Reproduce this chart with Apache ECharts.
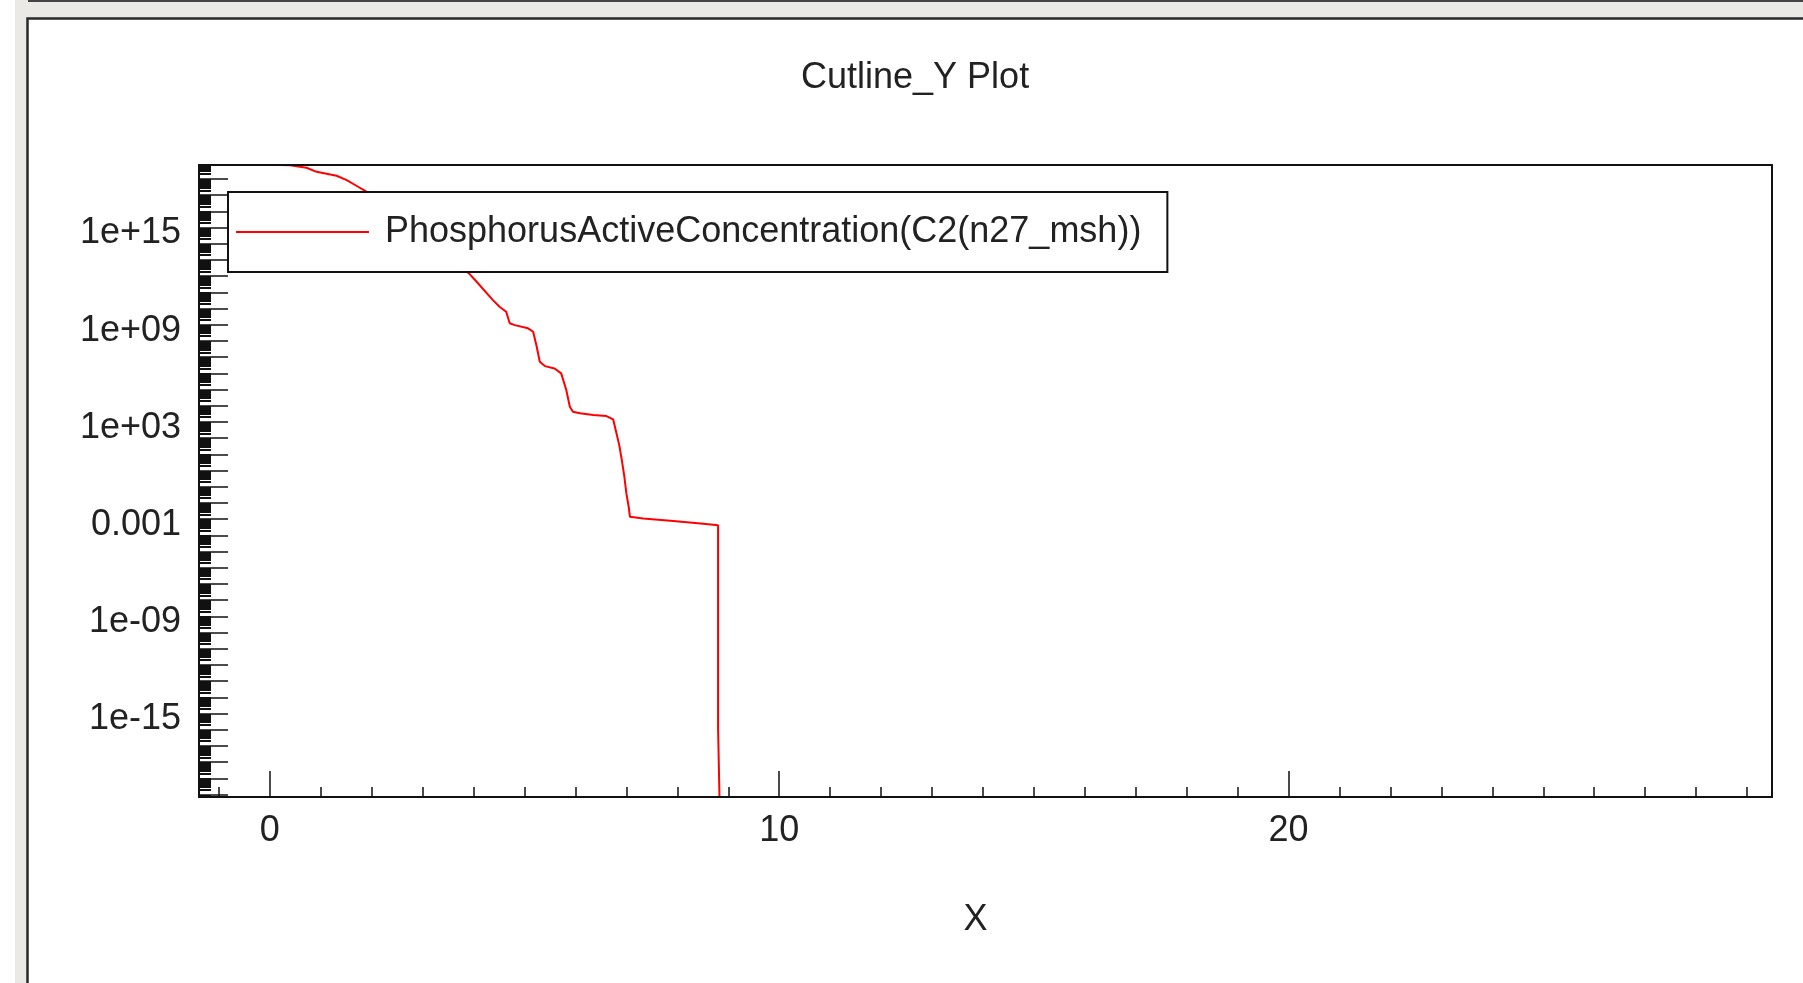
<!DOCTYPE html>
<html>
<head>
<meta charset="utf-8">
<script src="https://cdn.jsdelivr.net/npm/echarts@6/dist/echarts.min.js"></script>
<style>
  html, body { margin: 0; padding: 0; background: #ebe9e5; }
  #chart { width: 1803px; height: 983px; }
</style>
</head>
<body>
<div id="chart"></div>
<script>
// ---- data ----
const chartTitle = 'Cutline_Y Plot';
const seriesName = 'PhosphorusActiveConcentration(C2(n27_msh))';
const xAxisName = 'X';

// position along the cutline
const xs = [0.0, 0.4, 0.72, 0.92, 1.31, 1.51, 1.70, 1.88, 2.6, 3.3,
            3.91, 4.06, 4.38, 4.51, 4.64, 4.71, 4.81, 5.07, 5.17, 5.24,
            5.30, 5.40, 5.59, 5.72, 5.82, 5.89, 5.95, 6.09, 6.35, 6.61,
            6.74, 6.79, 6.86, 6.91, 6.96, 7.00, 7.05, 7.07, 7.33, 7.92,
            8.51, 8.80, 8.80, 8.84];
// active phosphorus concentration
const conc = [7.4e18, 7.1e18, 4.9e18, 2.75e18, 1.58e18, 8.5e17, 3.8e17, 1.78e17, 4.0e15, 6.3e13,
              1.48e12, 4.5e11, 3.3e10, 1.29e10, 6.3e9, 1.23e9, 9.5e8, 6.0e8, 3.7e8, 4.4e7,
              5.2e6, 2.8e6, 2.0e6, 1.0e6, 9.3e4, 8.7e3, 4.3e3, 3.4e3, 2.7e3, 2.3e3,
              1.45e3, 3.2e2, 37, 4.5, 0.42, 0.039, 4.7e-3, 1.4e-3, 1.1e-3, 7.6e-4,
              5.2e-4, 4.2e-4, 1.3e-16, 1e-22];

// axis ticks / labels
const xMinorTicks = [-1,0,1,2,3,4,5,6,7,8,9,10,11,12,13,14,15,16,17,18,19,20,21,22,23,24,25,26,27,28,29];
const xMajorTicks = [0, 10, 20];
const xTickLabels = ['0', '10', '20'];
const yDecadeExps = [-20,-19,-18,-17,-16,-15,-14,-13,-12,-11,-10,-9,-8,-7,-6,-5,-4,-3,-2,-1,0,1,2,3,4,5,6,7,8,9,10,11,12,13,14,15,16,17,18];
const yLabelExps = [15, 9, 3, -3, -9, -15];
const yTickLabels = ['1e+15', '1e+09', '1e+03', '0.001', '1e-09', '1e-15'];

// axis ranges (x in data units, y as log10 of concentration)
const X_MIN = -1.39, X_MAX = 29.49;
const Y_MIN = -20.15, Y_MAX = 18.86;

// ---- build ----
const yMinorTicks = [];
for (let n = -21; n <= 19; n++) {
  for (let k = 2; k <= 9; k++) {
    const v = n + Math.log10(k);
    if (v > Y_MIN && v < Y_MAX) yMinorTicks.push(v);
  }
}
const seriesData = xs.map((x, i) => [x, Math.log10(conc[i])]);

const FONT = '"Liberation Sans", Arial, sans-serif';
const TXT = '#222';
const FS = 36;

const chart = echarts.init(document.getElementById('chart'));
chart.setOption({
  animation: false,
  backgroundColor: '#ebe9e5',
  textStyle: { fontFamily: FONT },
  graphic: [
    { type: 'rect', z: -10, shape: { x: 0, y: 0, width: 15, height: 983 }, style: { fill: '#ffffff' } },
    { type: 'rect', z: -10, shape: { x: 28, y: 0, width: 1780, height: 2 }, style: { fill: '#444' } },
    { type: 'rect', z: -9, shape: { x: 27.5, y: 18.5, width: 1800, height: 1000 },
      style: { fill: '#ffffff', stroke: '#2a2a2a', lineWidth: 2.5 } }
  ],
  title: {
    text: chartTitle,
    left: 801,
    top: 60,
    padding: 0,
    textStyle: { fontFamily: FONT, fontSize: FS, fontWeight: 'normal', color: TXT, lineHeight: 36 }
  },
  legend: {
    left: 228,
    top: 192,
    orient: 'vertical',
    padding: [22, 26, 22, 8],
    backgroundColor: '#ffffff',
    borderColor: '#111',
    borderWidth: 2,
    borderRadius: 0,
    icon: 'rect',
    itemWidth: 133,
    itemHeight: 2,
    selectedMode: false,
    textStyle: { fontFamily: FONT, fontSize: FS, color: TXT, lineHeight: 36, padding: [0, 0, 0, 11] },
    data: [seriesName]
  },
  grid: { left: 199, top: 165, width: 1573, height: 632, show: false, containLabel: false },
  xAxis: [
    {
      type: 'value', position: 'bottom', min: X_MIN, max: X_MAX, z: 3,
      axisLine: { show: true, onZero: false, lineStyle: { color: '#111', width: 2 } },
      axisTick: { show: true, inside: true, length: 10, customValues: xMinorTicks,
                  lineStyle: { color: '#111', width: 1.5 } },
      axisLabel: { show: true, customValues: xMajorTicks, margin: 16,
                   fontFamily: FONT, fontSize: FS, color: TXT, lineHeight: 36,
                   formatter: v => xTickLabels[xMajorTicks.indexOf(Math.round(v))] },
      splitLine: { show: false },
      name: xAxisName, nameLocation: 'middle', nameGap: 105,
      nameTextStyle: { fontFamily: FONT, fontSize: FS, color: TXT, lineHeight: 36, padding: [0, 20, 0, 0] }
    },
    {
      type: 'value', position: 'bottom', offset: 0, min: X_MIN, max: X_MAX, z: 3,
      axisLine: { show: false, onZero: false },
      axisTick: { show: true, inside: true, length: 26, customValues: xMajorTicks,
                  lineStyle: { color: '#111', width: 1.5 } },
      axisLabel: { show: false },
      splitLine: { show: false }
    },
    {
      type: 'value', position: 'top', min: X_MIN, max: X_MAX, z: 3,
      axisLine: { show: true, onZero: false, lineStyle: { color: '#111', width: 2 } },
      axisTick: { show: false }, axisLabel: { show: false }, splitLine: { show: false }
    }
  ],
  yAxis: [
    {
      type: 'value', position: 'left', min: Y_MIN, max: Y_MAX, z: 3,
      axisLine: { show: true, onZero: false, lineStyle: { color: '#111', width: 2 } },
      axisTick: { show: true, inside: true, length: 29, customValues: yDecadeExps,
                  lineStyle: { color: '#111', width: 1.5 } },
      axisLabel: { show: true, customValues: yLabelExps, margin: 18,
                   fontFamily: FONT, fontSize: FS, color: TXT,
                   verticalAlign: 'top', lineHeight: 12,
                   formatter: v => yTickLabels[yLabelExps.indexOf(Math.round(v))] },
      splitLine: { show: false }
    },
    {
      type: 'value', position: 'left', offset: 0, min: Y_MIN, max: Y_MAX, z: 3,
      axisLine: { show: false, onZero: false },
      axisTick: { show: true, inside: true, length: 12, customValues: yMinorTicks,
                  lineStyle: { color: '#111', width: 2 } },
      axisLabel: { show: false },
      splitLine: { show: false }
    },
    {
      type: 'value', position: 'right', min: Y_MIN, max: Y_MAX, z: 3,
      axisLine: { show: true, onZero: false, lineStyle: { color: '#111', width: 2 } },
      axisTick: { show: false }, axisLabel: { show: false }, splitLine: { show: false }
    }
  ],
  series: [
    {
      name: seriesName,
      type: 'line',
      xAxisIndex: 0,
      yAxisIndex: 0,
      data: seriesData,
      symbol: 'none',
      showSymbol: false,
      clip: true,
      z: 2,
      color: '#ff0000',
      lineStyle: { color: '#ff0000', width: 2 },
      itemStyle: { color: '#ff0000' }
    }
  ]
});
</script>
</body>
</html>
